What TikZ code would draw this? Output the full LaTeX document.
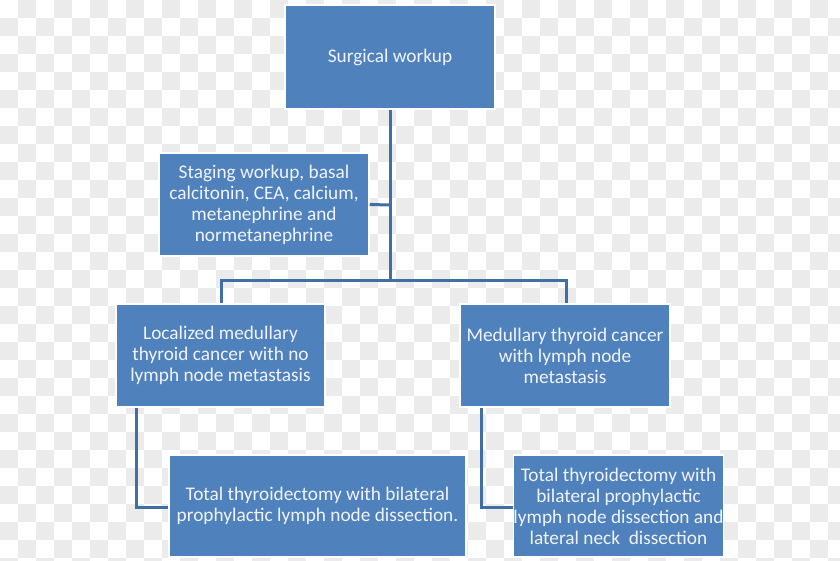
\documentclass[tikz,border=0pt]{standalone}
\usepackage{fontspec}
\setmainfont{Carlito}
\definecolor{boxblue}{RGB}{79,129,189}
\definecolor{lineblue}{RGB}{66,110,166}
\definecolor{chk}{RGB}{235,235,235}
\definecolor{txt}{RGB}{240,243,248}
\tikzset{
  flowbox/.style={rectangle, fill=boxblue, draw=white, line width=1.5pt,
    inner sep=0pt, align=center, text=txt,
    font=\fontsize{19.3}{21}\selectfont},
  conn/.style={draw=lineblue, line width=3pt}
}
\begin{document}
\begin{tikzpicture}[x=1pt,y=-1pt]
\useasboundingbox (0,0) rectangle (840,561);
\begin{scope}
\clip (0,0) rectangle (840,561);
\fill[white] (0,0) rectangle (840,561);
\foreach \i in {0,...,46}{\foreach \j in {0,...,31}{%
  \pgfmathtruncatemacro\k{mod(\i+\j,2)}%
  \ifnum\k=1 \fill[chk] (\i*18,\j*18) rectangle ++(18,18);\fi}}
\end{scope}

\coordinate (j) at (390,280);
\coordinate (bl) at (221,280);
\coordinate (br) at (566,280);
\coordinate (sj) at (390,205);
\coordinate (lk) at (136,507);
\coordinate (rk) at (481,507);

\node[flowbox, minimum width=210, minimum height=104] (top) at (390,57) {Surgical workup};
\node[flowbox, minimum width=210, minimum height=103] (stag) at (264,204.5)
  {Staging workup, basal\\calcitonin, CEA, calcium,\\metanephrine and\\normetanephrine};
\node[flowbox, minimum width=209, minimum height=103] (loc) at (220.5,355.5)
  {Localized medullary\\thyroid cancer with no\\lymph node metastasis};
\node[flowbox, minimum width=210, minimum height=103] (meta) at (565,355.5)
  {Medullary thyroid cancer\\with lymph node\\metastasis};
\node[flowbox, minimum width=297, minimum height=102] (tl) at (317.5,506)
  {Total thyroidectomy with bilateral\\prophylactic lymph node dissection.};
\node[flowbox, minimum width=209, minimum height=102] (tr) at (618.5,506)
  {Total thyroidectomy with\\bilateral prophylactic\\lymph node dissection and\\lateral neck\ \ dissection};

\draw[conn] (top.south) -- (j);
\draw[conn] (stag.east) -- (sj);
\draw[conn, line cap=rect] (bl) -- (br);
\draw[conn] (bl) -- (loc.north -| bl);
\draw[conn] (br) -- (meta.north -| br);
\draw[conn] (loc.south -| lk) |- (tl.west |- lk);
\draw[conn] (meta.south -| rk) |- (tr.west |- rk);
\end{tikzpicture}
\end{document}
